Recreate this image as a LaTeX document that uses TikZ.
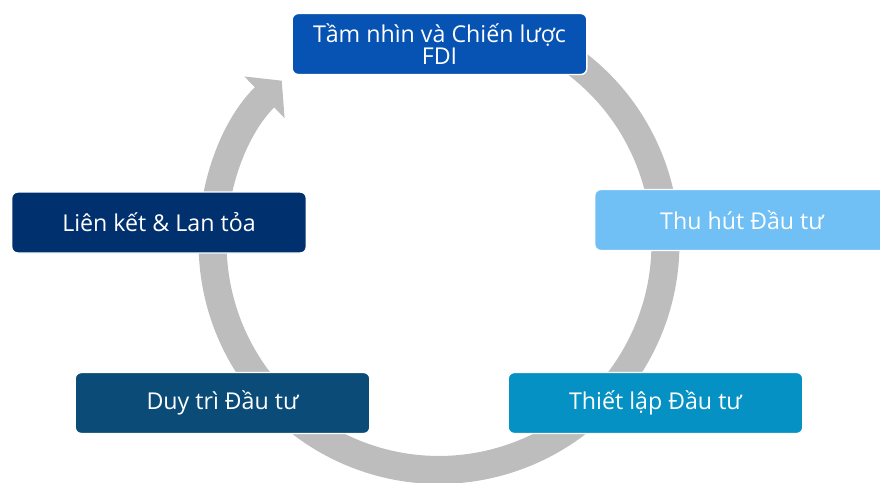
\documentclass[tikz,border=0pt]{standalone}
\usepackage{fontspec}
\setmainfont{Open Sans}
\usetikzlibrary{arrows.meta}

\definecolor{ringgray}{RGB}{189,189,189}
\definecolor{visionblue}{RGB}{6,83,179}
\definecolor{linknavy}{RGB}{0,48,110}
\definecolor{attractblue}{RGB}{112,192,245}
\definecolor{maintainblue}{RGB}{10,75,120}
\definecolor{establishblue}{RGB}{5,145,195}

\begin{document}
\begin{tikzpicture}[x=0.75pt,y=-0.75pt,font=\fontsize{17.4}{16.8}\selectfont]
        \tikzstyle{stage}=[rectangle,rounded corners=4.5pt,draw=white,line width=1.1pt,
                           text=white,minimum width=221pt,minimum height=45.75pt,
                           inner sep=0pt,align=center]
        \tikzstyle{cycle}=[draw=ringgray,line width=21pt,
                           -{Triangle[length=18pt,width=42.5pt]}]

        \useasboundingbox (0,0) rectangle (880,482);

        \coordinate (O) at (439,243.5);
        \draw[cycle] (O) ++(-65:226.4) arc[start angle=-65,end angle=226,radius=226.4];

        \node[stage,fill=visionblue]    (vision)    at (439.5,44)  {Tầm nhìn và Chiến lược\\FDI};
        \node[stage,fill=attractblue]   (attract)   at (742,220)   {Thu hút Đầu tư};
        \node[stage,fill=establishblue] (establish) at (655.5,403) {Thiết lập Đầu tư};
        \node[stage,fill=maintainblue]  (maintain)  at (222.5,403) {Duy trì Đầu tư};
        \node[stage,fill=linknavy]      (link)      at (159,222.5) {Liên kết \& Lan tỏa};
\end{tikzpicture}
\end{document}
